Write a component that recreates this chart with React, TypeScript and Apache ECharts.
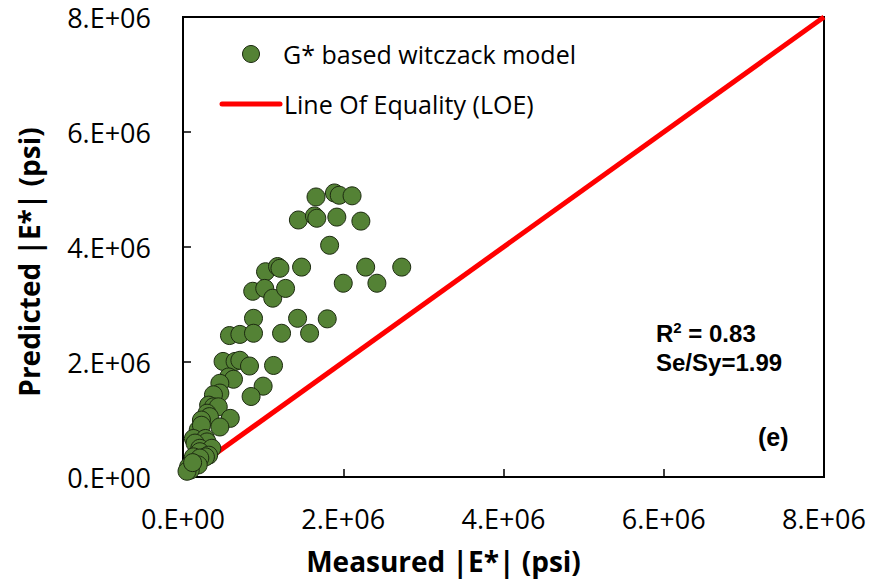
import React, { useEffect, useRef } from "react";
import * as echarts from "echarts";

const measured: number[] = [
  1.66, 1.89, 1.95, 2.11, 1.44, 1.64, 1.67, 1.92, 2.22, 1.83,
  1.03, 1.18, 1.21, 1.48, 2.28, 2.73, 2.0, 2.42, 0.87, 1.02,
  1.12, 1.28, 0.88, 1.43, 1.8, 0.58, 0.71, 0.88, 1.23, 1.58,
  0.5, 0.65, 0.71, 0.83, 1.13, 0.57, 0.63, 1.0, 0.85, 0.46,
  0.46, 0.38, 0.32, 0.38, 0.44, 0.3, 0.33, 0.59, 0.23, 0.46,
  0.19, 0.23, 0.13, 0.28, 0.3, 0.15, 0.21, 0.36, 0.21, 0.32,
  0.28, 0.13, 0.21, 0.19, 0.07, 0.09, 0.05, 0.12,
];
const predicted: number[] = [
  4.87, 4.94, 4.9, 4.89, 4.47, 4.54, 4.5, 4.52, 4.45, 4.03,
  3.57, 3.66, 3.63, 3.65, 3.65, 3.65, 3.37, 3.37, 3.23, 3.28,
  3.11, 3.28, 2.76, 2.76, 2.75, 2.46, 2.48, 2.5, 2.5, 2.5,
  2.01, 2.01, 2.03, 1.93, 1.94, 1.74, 1.7, 1.58, 1.4, 1.63,
  1.46, 1.43, 1.25, 1.22, 1.22, 1.11, 1.05, 1.02, 0.99, 0.87,
  0.82, 0.9, 0.67, 0.67, 0.61, 0.59, 0.5, 0.5, 0.44, 0.38,
  0.35, 0.35, 0.33, 0.21, 0.18, 0.12, 0.1, 0.25,
];
const scale = 1e6;
const loe: number[][] = [[0, 0], [8e6, 8e6]];
const axisMax = 8e6;
const axisInterval = 2e6;
const seriesNames = ["G* based witczack model", "Line Of Equality (LOE)"];
const annotations = ["R{sup|2} = 0.83", "Se/Sy=1.99", "(e)"];

const fmt = (v: number) => (v === 0 ? "0.E+00" : `${Math.round(v / 1e6)}.E+06`);

export default function App() {
  const ref = useRef<HTMLDivElement>(null);
  useEffect(() => {
    if (!ref.current) return;
    const chart = echarts.init(ref.current, undefined, { renderer: "svg" });
    const scatterData = measured.map((m, i) => [m * scale, predicted[i] * scale]);
    const labelFont = { fontFamily: "Open Sans", fontSize: 27, lineHeight: 24, color: "#000" };
    chart.setOption({
      animation: false,
      backgroundColor: "#fff",
      grid: {
        left: 183,
        top: 17,
        right: 48,
        bottom: 111,
        show: true,
        borderColor: "#000",
        borderWidth: 2,
        backgroundColor: "transparent",
      },
      xAxis: {
        type: "value",
        min: 0,
        max: axisMax,
        interval: axisInterval,
        splitLine: { show: false },
        axisLine: { show: true, onZero: false, lineStyle: { color: "#000", width: 2 } },
        axisTick: { show: true, inside: true, length: 8, lineStyle: { color: "#000", width: 1.5 } },
        axisLabel: { ...labelFont, margin: 29, formatter: fmt },
        name: "Measured |E*| (psi)",
        nameLocation: "middle",
        nameGap: 70,
        nameTextStyle: {
          fontFamily: "Open Sans",
          fontWeight: "bold",
          fontSize: 28,
          color: "#000",
          padding: [0, 120, 0, 0],
        },
      },
      yAxis: {
        type: "value",
        min: 0,
        max: axisMax,
        interval: axisInterval,
        splitLine: { show: false },
        axisLine: { show: true, onZero: false, lineStyle: { color: "#000", width: 2 } },
        axisTick: { show: true, inside: true, length: 8, lineStyle: { color: "#000", width: 1.5 } },
        axisLabel: { ...labelFont, margin: 32, padding: [5, 0, 0, 0], formatter: fmt },
        name: "Predicted |E*| (psi)",
        nameLocation: "middle",
        nameGap: 140,
        nameTextStyle: {
          fontFamily: "Open Sans",
          fontWeight: "bold",
          fontSize: 28,
          color: "#000",
          padding: [0, 30, 0, 0],
        },
      },
      series: [
        {
          name: seriesNames[1],
          type: "line",
          data: loe,
          symbol: "none",
          lineStyle: { color: "#ff0000", width: 5 },
          z: 1,
        },
        {
          name: seriesNames[0],
          type: "scatter",
          data: scatterData,
          symbolSize: 18,
          itemStyle: { color: "#548235", borderColor: "#1c2a10", borderWidth: 1, opacity: 1 },
          z: 2,
        },
      ],
      graphic: [
        {
          type: "circle",
          shape: { cx: 251, cy: 54, r: 8.5 },
          style: { fill: "#548235", stroke: "#1c2a10", lineWidth: 1 },
        },
        {
          type: "text",
          x: 283,
          y: 54,
          style: {
            text: seriesNames[0],
            font: "25px 'Open Sans'",
            fill: "#000",
            verticalAlign: "middle",
          },
        },
        {
          type: "line",
          shape: { x1: 222, y1: 104, x2: 280, y2: 104 },
          style: { stroke: "#ff0000", lineWidth: 5, lineCap: "round" },
        },
        {
          type: "text",
          x: 284,
          y: 104,
          style: {
            text: seriesNames[1],
            font: "25px 'Open Sans'",
            fill: "#000",
            verticalAlign: "middle",
          },
        },
        {
          type: "text",
          x: 656,
          y: 333,
          style: {
            text: annotations[0],
            font: "bold 24px 'Liberation Sans'",
            fill: "#000",
            verticalAlign: "middle",
            rich: {
              sup: { fontSize: 15, fontWeight: "bold", fontFamily: "Liberation Sans", verticalAlign: "top", padding: [0, 0, 11, 0] },
            },
          },
        },
        {
          type: "text",
          x: 656,
          y: 362,
          style: {
            text: annotations[1],
            font: "bold 24px 'Liberation Sans'",
            fill: "#000",
            verticalAlign: "middle",
          },
        },
        {
          type: "text",
          x: 758,
          y: 437,
          style: {
            text: annotations[2],
            font: "bold 25px 'Liberation Sans'",
            fill: "#000",
            verticalAlign: "middle",
          },
        },
      ],
    });
    return () => chart.dispose();
  }, []);
  return (
    <div
      ref={ref}
      style={{ position: "absolute", left: 0, top: 0, width: 872, height: 588, background: "#fff" }}
    />
  );
}
